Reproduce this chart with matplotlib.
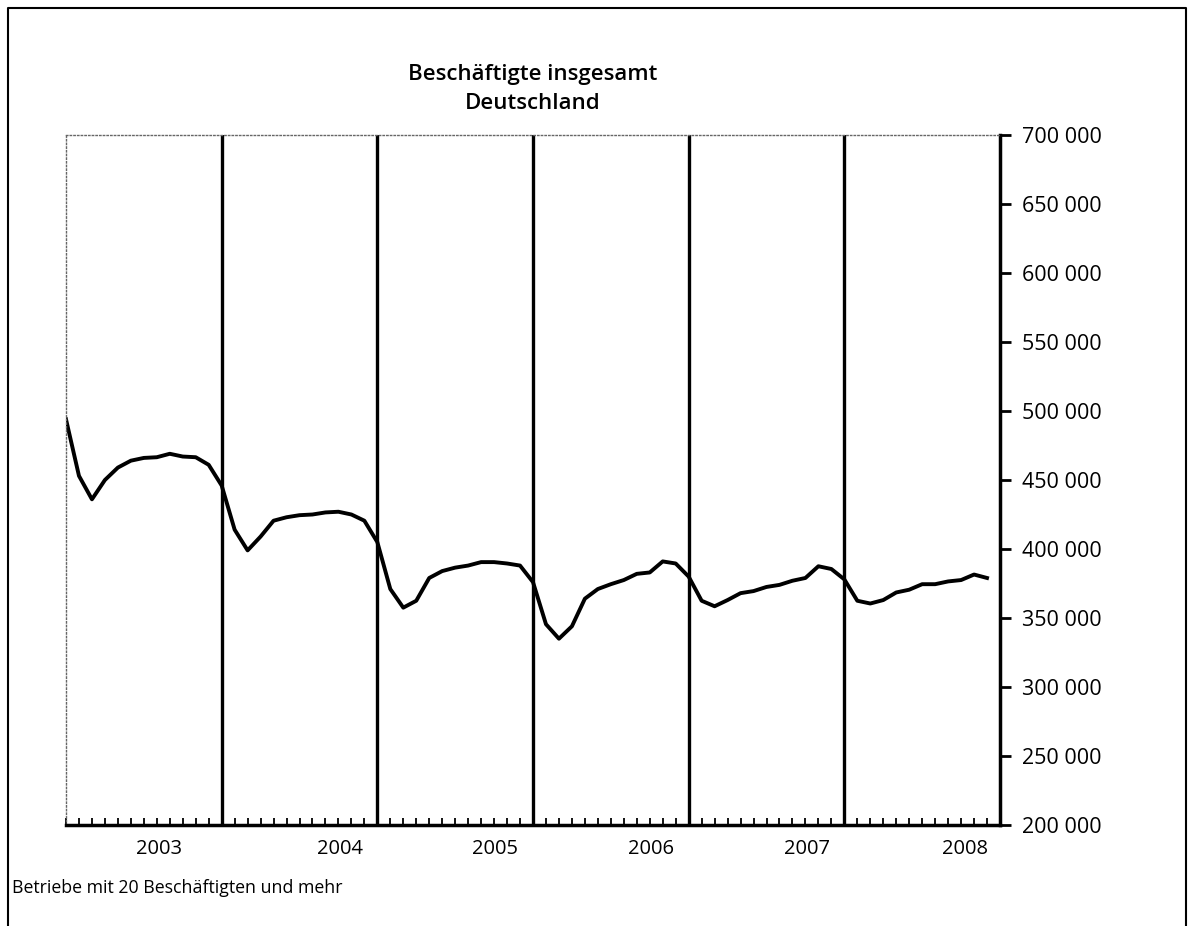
import matplotlib.pyplot as plt
from matplotlib.ticker import FuncFormatter, MultipleLocator

plt.rcParams['font.family'] = ['Open Sans', 'DejaVu Sans']

# Beschaeftigte, monthly, Jan 2003 - Dec 2008
years = ['2003', '2004', '2005', '2006', '2007', '2008']
v2003 = [494000, 453000, 436000, 450000, 459000, 464000, 466000, 466500, 469000, 467000, 466500, 461000]
v2004 = [446000, 414000, 399000, 409000, 420500, 423000, 424500, 425000, 426500, 427000, 425000, 420500]
v2005 = [405000, 371000, 357500, 362500, 379000, 384000, 386500, 388000, 390500, 390500, 389500, 388000]
v2006 = [376000, 345500, 335000, 344000, 364000, 371000, 374500, 377500, 382000, 383000, 391000, 389500]
v2007 = [380000, 362500, 358500, 363000, 368000, 369500, 372500, 374000, 377000, 379000, 387500, 385500]
v2008 = [378000, 362500, 360500, 363000, 368500, 370500, 374500, 374500, 376500, 377500, 381500, 379000]
values = v2003 + v2004 + v2005 + v2006 + v2007 + v2008
# month offset of each year label inside its year
label_offset = [7.2, 9.1, 9.1, 9.1, 9.1, 9.3]

fig = plt.figure(figsize=(11.88, 9.26), dpi=100)
ax = fig.add_axes([66 / 1188, 101 / 926, 934 / 1188, 690 / 926])

x = list(range(len(values)))
ax.plot(x, values, color='black', lw=2.8, solid_joinstyle='round')

for k in range(1, len(years)):
    ax.axvline(12 * k, color='black', lw=2.4, zorder=1)

ax.set_xlim(0, 12 * len(years))
ax.set_ylim(200000, 700000)

ax.yaxis.tick_right()
ax.yaxis.set_major_locator(MultipleLocator(50000))
ax.yaxis.set_major_formatter(FuncFormatter(lambda v, p: f'{int(v):,}'.replace(',', ' ')))
ax.tick_params(axis='y', direction='out', length=8, width=2, labelsize=15.5, pad=8)

ax.set_xticks(range(0, 12 * len(years) + 1), minor=True)
ax.set_xticks([12 * i + o for i, o in enumerate(label_offset)])
ax.set_xticklabels(years)
ax.tick_params(axis='x', which='major', length=0, labelsize=14.5, pad=10)
ax.tick_params(axis='x', which='minor', direction='in', length=5, width=1.3)

for side in ['left', 'top']:
    ax.spines[side].set_linestyle(':')
    ax.spines[side].set_color('#666666')
    ax.spines[side].set_linewidth(1)
ax.spines['right'].set_linewidth(2.5)
ax.spines['bottom'].set_linewidth(2.5)

fig.text(533 / 1188, 1 - 89 / 926, 'Beschäftigte insgesamt\nDeutschland', ha='center',
         va='center', fontsize=16, fontweight='semibold', linespacing=1.45)
fig.text(12 / 1188, 1 - 888 / 926, 'Betriebe mit 20 Beschäftigten und mehr', ha='left',
         va='center', fontsize=12.8)

# outer frame (left, top, right)
fig.add_artist(plt.Line2D([8 / 1188, 8 / 1188, 1186 / 1188, 1186 / 1188],
                          [0, 1 - 8 / 926, 1 - 8 / 926, 0],
                          transform=fig.transFigure, color='black', lw=1.5))

fig.savefig('out.png', dpi=100)
